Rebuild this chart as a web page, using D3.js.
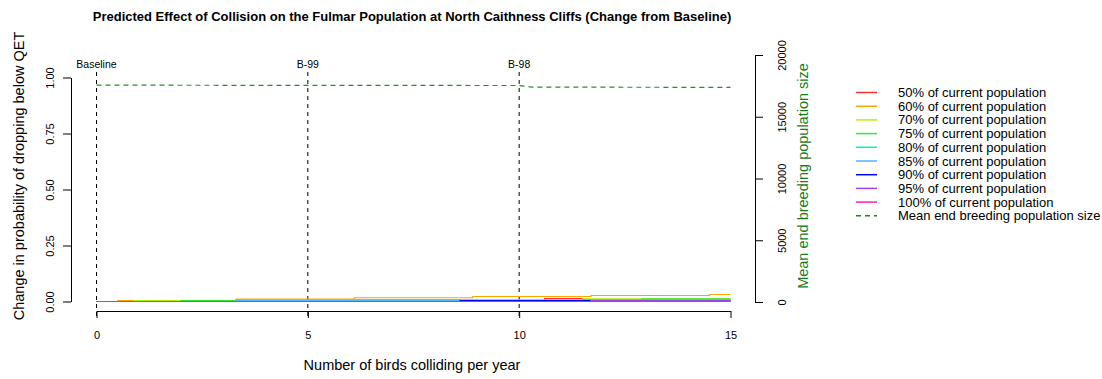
<!DOCTYPE html>
<html>
<head>
<meta charset="utf-8">
<script src="https://cdn.jsdelivr.net/npm/d3@7"></script>
<style>
  html, body { margin: 0; padding: 0; background: #fff; }
  svg { display: block; font-family: "Liberation Sans", Arial, sans-serif; }
</style>
</head>
<body>
<svg id="chart" width="1102" height="379"></svg>
<script>
// ---- Data ----
const title = "Predicted Effect of Collision on the Fulmar Population at North Caithness Cliffs (Change from Baseline)";
const xTicks = [0, 5, 10, 15];
const yTicks = [0, 0.25, 0.5, 0.75, 1.0];
const y2Ticks = [0, 5000, 10000, 15000, 20000];
const refLines = [0, 5, 10];
const refLabels = ["Baseline", "B-99", "B-98"];

const seriesNames = ["50% of current population", "60% of current population", "70% of current population",
  "75% of current population", "80% of current population", "85% of current population",
  "90% of current population", "95% of current population", "100% of current population"];
const seriesColors = ["#ff3030", "#ffa500", "#b4f500", "#33e833", "#00f5a0", "#50b4ff", "#0000ff", "#a040f0", "#ff1eaa"];

// step values [x, change in probability]
const s50  = [[0, 0], [10.6, 0.0130], [11.5, 0], [15, 0]];
const s60  = [[0, 0], [0.5, 0.0044], [3.3, 0.0110], [6.1, 0.0165], [8.9, 0.0220], [11.7, 0.0265], [14.5, 0.0310], [15, 0.0310]];
const s70  = [[0, 0], [0.9, 0.0044], [2.0, 0], [6.1, 0.0088], [8.9, 0.0066], [11.5, 0.0120], [15, 0.0120]];
const s75  = [[0, 0], [2.0, 0.0044], [3.3, 0.0044], [12.9, 0.0125], [15, 0.0125]];
const s80  = [[0, 0], [3.3, 0.0075], [8.6, 0.0066], [11.5, 0.0088], [15, 0.0088]];
const s85  = [[0, 0], [3.3, 0.0044], [15, 0.0044]];
const s90  = [[0, 0], [8.6, 0.0044], [15, 0.0044]];
const s95  = [[0, 0], [11.7, 0.0044], [15, 0.0044]];
const s100 = [[0, 0], [15, 0]];
const seriesData = [s50, s60, s70, s75, s80, s85, s90, s95, s100];

// mean end breeding population size
const popX = [0, 2.5, 5, 7.5, 10, 10.3, 12.5, 15];
const popY = [17560, 17550, 17540, 17535, 17530, 17400, 17390, 17380];

// ---- Drawing ----
const svg = d3.select("#chart");
const x = d3.scaleLinear().domain([0, 15]).range([96.5, 730.5]);
const y = d3.scaleLinear().domain([0, 1]).range([301.5, 77.5]);
const y2 = d3.scaleLinear().domain([0, 20000]).range([302, 55]);
const FONT = "Liberation Sans, Arial, sans-serif";

// title
svg.append("text").attr("x", 412).attr("y", 21).attr("text-anchor", "middle")
  .attr("font-weight", "bold").attr("font-size", 13).text(title);

// x axis
const xAxis = svg.append("g").attr("transform", "translate(0,311)")
  .call(d3.axisBottom(x).tickValues(xTicks).tickSize(7).tickPadding(13).tickSizeOuter(0));
xAxis.selectAll("text").attr("font-size", 11).attr("font-family", FONT);

// left y axis
const yAxis = svg.append("g").attr("transform", "translate(71,0)")
  .call(d3.axisLeft(y).tickValues(yTicks).tickSize(8).tickSizeOuter(0));
yAxis.selectAll("text").remove();
yAxis.selectAll(".tick").append("text")
  .attr("transform", "translate(-21,0) rotate(-90)")
  .attr("text-anchor", "middle").attr("dy", "0.35em").attr("fill", "#000")
  .attr("font-size", 11).attr("font-family", FONT)
  .text(d => d3.format(".2f")(d));

// right y axis
const y2Axis = svg.append("g").attr("transform", "translate(755,0)")
  .call(d3.axisRight(y2).tickValues(y2Ticks).tickSize(8).tickSizeOuter(0));
y2Axis.selectAll("text").remove();
y2Axis.selectAll(".tick").append("text")
  .attr("transform", "translate(27,0) rotate(-90)")
  .attr("text-anchor", "middle").attr("dy", "0.35em").attr("fill", "#000")
  .attr("font-size", 11).attr("font-family", FONT)
  .text(d => d);

// axis titles
svg.append("text").attr("x", 412).attr("y", 370).attr("text-anchor", "middle")
  .attr("font-size", 14.5).text("Number of birds colliding per year");
svg.append("text").attr("transform", "translate(24,176) rotate(-90)").attr("text-anchor", "middle")
  .attr("font-size", 14.5).text("Change in probability of dropping below QET");
svg.append("text").attr("transform", "translate(808,176) rotate(-90)").attr("text-anchor", "middle")
  .attr("font-size", 14.5).attr("fill", "#1a7a1a").text("Mean end breeding population size");

// reference lines
refLines.forEach((v, i) => {
  svg.append("line").attr("x1", x(v)).attr("x2", x(v)).attr("y1", 72).attr("y2", 318)
    .attr("stroke", "#000").attr("stroke-dasharray", "4,4");
  svg.append("text").attr("x", x(v)).attr("y", 64).attr("dy", "0.35em").attr("text-anchor", "middle")
    .attr("font-size", 10.5).text(refLabels[i]);
});

// series
const line = d3.line().x(d => x(d[0])).y(d => y(d[1])).curve(d3.curveStepAfter);
seriesData.forEach((s, i) => {
  svg.append("path").datum(s).attr("d", line).attr("fill", "none")
    .attr("stroke", seriesColors[i]).attr("stroke-width", 1.1);
});

// population line
const popLine = d3.line().x(d => x(d[0])).y(d => y2(d[1]));
svg.append("path").datum(popX.map((v, i) => [v, popY[i]])).attr("d", popLine)
  .attr("fill", "none").attr("stroke", "#2a8a2a").attr("stroke-width", 1.2)
  .attr("stroke-dasharray", "5,4");

// legend
const legNames = seriesNames.concat(["Mean end breeding population size"]);
const legColors = seriesColors.concat(["#2a7a2a"]);
legNames.forEach((n, i) => {
  const ly = 92.5 + i * 13.7;
  svg.append("line").attr("x1", 856).attr("x2", 877).attr("y1", ly).attr("y2", ly)
    .attr("stroke", legColors[i]).attr("stroke-width", 1.5)
    .attr("stroke-dasharray", i === 9 ? "5,4" : null);
  svg.append("text").attr("x", 898).attr("y", ly).attr("dy", "0.35em")
    .attr("font-size", 13).text(n);
});
</script>
</body>
</html>
